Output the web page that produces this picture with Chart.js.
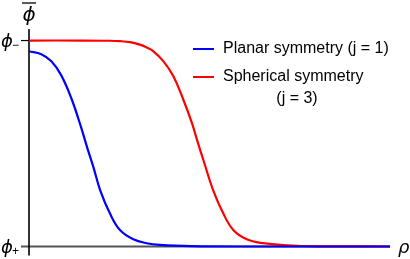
<!DOCTYPE html>
<html>
<head>
<meta charset="utf-8">
<script src="https://cdn.jsdelivr.net/npm/chart.js@4"></script>
<style>
  html, body { margin: 0; padding: 0; background: #fff; }
  #wrap { width: 410px; height: 259px; }
</style>
</head>
<body>
<div id="wrap"><canvas id="grafica"></canvas></div>
<script>
// datos (rho en 0..10, phi normalizado 0..1)
const rhoPlanar = [0, 0.34, 0.62, 0.89, 1.17, 1.45, 1.61, 1.78, 1.97, 2.24, 2.52, 2.89, 3.26, 3.63, 4.5, 6, 10];
const phiPlanar = [0.948, 0.934, 0.899, 0.832, 0.721, 0.575, 0.481, 0.388, 0.274, 0.161, 0.080, 0.035, 0.016, 0.008, 0.002, 0, 0];

const rhoSpherical = [0, 1.5, 2.2, 2.52, 2.8, 3.07, 3.25, 3.44, 3.72, 4.0, 4.27, 4.51, 4.69, 4.83, 5.1, 5.38, 5.66, 6.03, 6.49, 7.14, 8, 10];
const phiSpherical = [1.0, 1.0, 0.999, 0.997, 0.992, 0.980, 0.967, 0.949, 0.900, 0.827, 0.715, 0.601, 0.497, 0.420, 0.274, 0.161, 0.080, 0.035, 0.016, 0.006, 0.001, 0];

const seriesLabels = ["Planar symmetry (j = 1)", "Spherical symmetry", "(j = 3)"];
const yTickValues = [1, 0];
const yTickNames = ["−", "+"];

const toPoints = (xs, ys) => xs.map((x, i) => ({ x: x, y: ys[i] }));

// ejes, etiquetas y leyenda dibujados a mano
const ejes = {
  id: "ejes",
  beforeDatasetsDraw(chart) {
    const c = chart.ctx;
    const xs = chart.scales.x, ys = chart.scales.y;
    const x0 = xs.getPixelForValue(0);
    const xEnd = xs.getPixelForValue(10);
    const y0 = ys.getPixelForValue(0);
    const yTop = ys.getPixelForValue(ys.max);
    c.save();
    // eje x gris
    c.strokeStyle = "#555";
    c.lineWidth = 2;
    c.beginPath();
    c.moveTo(x0 - 8, y0);
    c.lineTo(xEnd, y0);
    c.stroke();
    // eje y negro
    c.strokeStyle = "#000";
    c.lineWidth = 1.6;
    c.beginPath();
    c.moveTo(x0, yTop);
    c.lineTo(x0, y0 + 9);
    c.stroke();
    // marca de phi-
    const y1 = ys.getPixelForValue(yTickValues[0]);
    c.lineWidth = 1.2;
    c.beginPath();
    c.moveTo(x0 - 8, y1);
    c.lineTo(x0, y1);
    c.stroke();
    c.restore();
  },
  afterDraw(chart) {
    const c = chart.ctx;
    const xs = chart.scales.x, ys = chart.scales.y;
    const x0 = xs.getPixelForValue(0);
    c.save();
    c.fillStyle = "#000";
    c.textBaseline = "alphabetic";
    // etiquetas del eje y
    yTickValues.forEach((v, i) => {
      const y = ys.getPixelForValue(v);
      c.font = "italic 18px 'DejaVu Sans'";
      c.textAlign = "left";
      c.fillText("ϕ", 1, y + 6);
      c.font = "12px 'Liberation Sans'";
      c.fillText(yTickNames[i], 12, y + 8);
    });
    // phi con barra
    c.font = "italic 20px 'DejaVu Sans'";
    c.textAlign = "center";
    c.fillText("ϕ", x0, 21);
    c.strokeStyle = "#000";
    c.lineWidth = 1.3;
    c.beginPath();
    c.moveTo(x0 - 7, 3);
    c.lineTo(x0 + 7, 3);
    c.stroke();
    // rho
    c.font = "italic 18px 'DejaVu Sans'";
    c.textAlign = "left";
    c.fillText("ρ", 398, ys.getPixelForValue(0) + 6);
    // leyenda
    const colores = ["#0000ff", "#ff0000"];
    const filas = [49, 77];
    c.lineWidth = 2;
    filas.forEach((y, i) => {
      c.strokeStyle = colores[i];
      c.beginPath();
      c.moveTo(193, y);
      c.lineTo(214, y);
      c.stroke();
    });
    c.font = "16px 'Liberation Sans'";
    c.textBaseline = "middle";
    c.fillText(seriesLabels[0], 223, 49);
    c.fillText(seriesLabels[1], 223, 77);
    c.textAlign = "center";
    c.fillText(seriesLabels[2], 297, 99);
    c.restore();
  }
};

const ctx = document.getElementById("grafica").getContext("2d");
const chart = new Chart(ctx, {
  type: "line",
  data: {
    datasets: [{
      data: toPoints(rhoPlanar, phiPlanar),
      borderColor: "#0000ff",
      borderWidth: 2.2,
      pointRadius: 0,
      tension: 0.4,
      clip: 6
    }, {
      data: toPoints(rhoSpherical, phiSpherical),
      borderColor: "#ff0000",
      borderWidth: 2.2,
      pointRadius: 0,
      tension: 0.4,
      clip: 6
    }]
  },
  options: {
    responsive: true,
    maintainAspectRatio: false,
    animation: false,
    layout: { padding: { left: 29, right: 20, top: 29, bottom: 12.5 } },
    plugins: { legend: { display: false }, tooltip: { enabled: false } },
    scales: {
      x: { type: "linear", min: 0, max: 10, display: false },
      y: { type: "linear", min: 0, max: 1.056, display: false }
    }
  },
  plugins: [ejes]
});
</script>
</body>
</html>
